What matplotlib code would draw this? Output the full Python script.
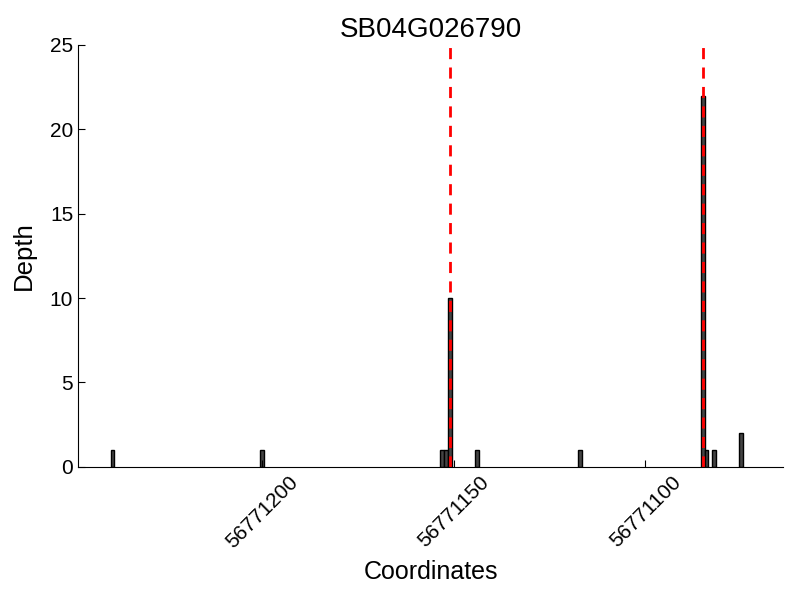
import matplotlib
matplotlib.use("Agg")
import matplotlib.pyplot as plt

plt.rcParams['font.family'] = ['Liberation Sans', 'DejaVu Sans']

# read depth per coordinate
coords = [56771239, 56771200, 56771153, 56771152, 56771151, 56771144,
          56771117, 56771085, 56771084, 56771082, 56771075]
depth = [1, 1, 1, 1, 10, 1, 1, 22, 1, 1, 2]
sites = [56771151, 56771085]
xticks = [56771200, 56771150, 56771100]

fig = plt.figure(figsize=(8, 6), dpi=100)
ax = fig.add_axes([0.0975, 0.222, 0.8815, 0.703])

ax.bar(coords, depth, width=1.0, color='#444444', edgecolor='black', linewidth=1)
for s in sites:
    ax.axvline(s, color='red', linestyle='--', linewidth=2, dashes=(4, 3))

ax.set_xlim(56771248, 56771064)
ax.set_ylim(0, 25)
ax.set_yticks([0, 5, 10, 15, 20, 25])
ax.set_xticks(xticks)
ax.set_xticklabels([str(x) for x in xticks], rotation=45, ha='center')
ax.tick_params(direction='in', labelsize=15, length=5)
ax.tick_params(axis='x', pad=4)
ax.spines['top'].set_visible(False)
ax.spines['right'].set_visible(False)

ax.set_title('SB04G026790', fontsize=20, pad=6)
ax.set_xlabel('Coordinates', fontsize=18, labelpad=6)
ax.set_ylabel('Depth', fontsize=18.5, labelpad=10)

fig.savefig('out.png', dpi=100)
